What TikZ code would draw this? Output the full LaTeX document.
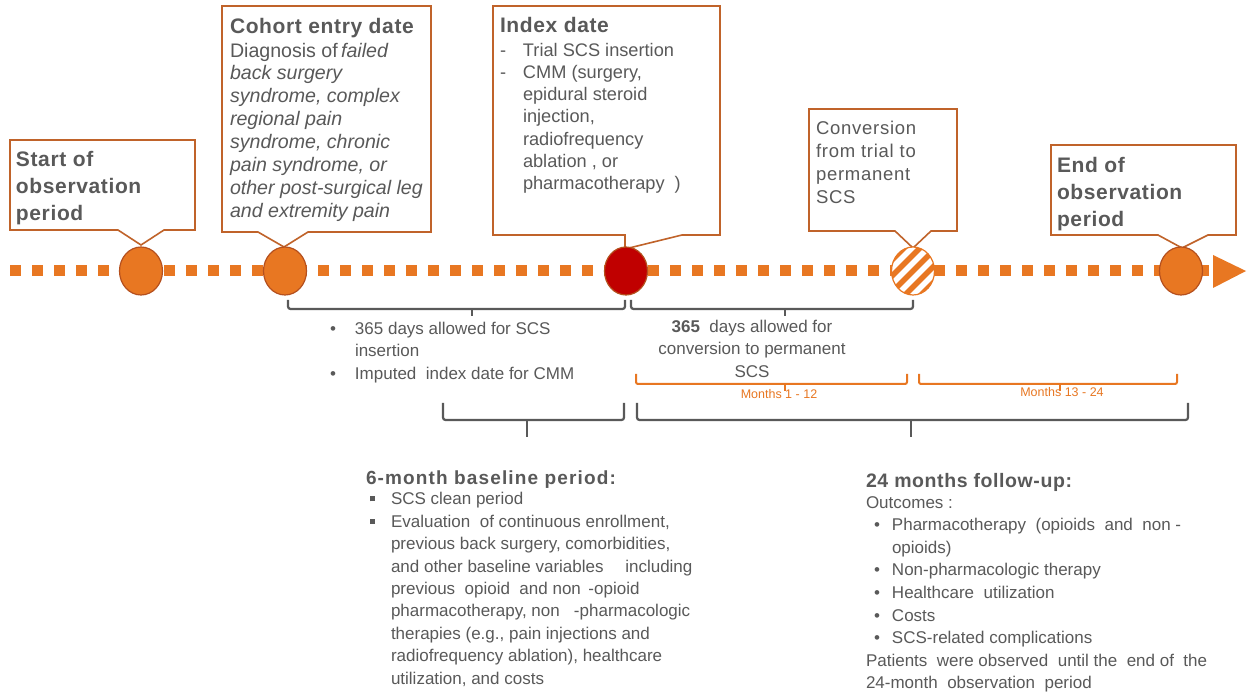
\documentclass[tikz,border=0pt]{standalone}
\usepackage{fontspec}
\setmainfont{Liberation Sans}
\usetikzlibrary{shapes.geometric}
\definecolor{org}{HTML}{E87722}
\definecolor{rust}{HTML}{C0632A}
\definecolor{txt}{HTML}{595959}
\definecolor{idx}{HTML}{C00000}
\definecolor{ring}{HTML}{B5501E}
\begin{document}
\begin{tikzpicture}[x=1pt,y=-1pt,
  callout/.style={draw=rust, line width=1.6pt, fill=white, line join=miter},
  dot/.style={ellipse, minimum width=43pt, minimum height=48pt, inner sep=0pt, fill=org, draw=ring, line width=1.2pt},
  br/.style={draw=txt, line width=2.2pt, rounded corners=2.5pt},
  obr/.style={draw=org, line width=2pt, rounded corners=2pt},
  tb/.style={anchor=north west, inner sep=0pt, outer sep=0pt, align=left, text=txt},
  bigtitle/.style={tb, font=\fontsize{21}{27}\selectfont\bfseries\addfontfeature{LetterSpace=3}},
]
\useasboundingbox (0,0) rectangle (1248,692);
\fill[white] (0,0) rectangle (1248,692);

% timeline
\coordinate (tl0) at (10,271);
\coordinate (tl1) at (1213,271);
\draw[org, line width=11pt, dash pattern=on 11pt off 11pt] (tl0) -- (tl1);
\fill[org] (1213,255) -- (1246,271) -- (1213,288) -- cycle;

% callouts
\draw[callout] (10,140) -- (195,140) -- (195,230) -- (164,230) -- (141,245) -- (118,230) -- (10,230) -- cycle;
\draw[callout] (222,6) -- (431,6) -- (431,232) -- (308,232) -- (284,247) -- (258,232) -- (222,232) -- cycle;
\draw[callout] (493,6) -- (720,6) -- (720,235) -- (682,235) -- (625,249) -- (625,235) -- (493,235) -- cycle;
\draw[callout] (809,109) -- (957,109) -- (957,231) -- (931,231) -- (913,248) -- (895,231) -- (809,231) -- cycle;
\draw[callout] (1051,145) -- (1236,145) -- (1236,235) -- (1208,235) -- (1182,248) -- (1158,235) -- (1051,235) -- cycle;

% circles
\node[dot] (cstart) at (141,271) {};
\node[dot] (centry) at (285,271) {};
\node[dot, fill=idx] (cindex) at (626,271) {};
\node[dot, fill=white, draw=org, path picture={
  \foreach \s in {-32,-24,...,32}
    \draw[org, line width=5.5pt] ([shift={(\s,\s)}]path picture bounding box.center) ++(-40,40) -- ++(80,-80);
}] (cconv) at (913,271) {};
\node[dot] (cend) at (1181,271) {};

% callout texts
\node[bigtitle] (tstart) at (16,148.1) {\strut Start of\\observation\\period};
\node[bigtitle] (tentry) at (230,15.1) {\strut Cohort entry date};
\node[tb, font=\fontsize{19.6}{22.9}\selectfont] (tentryb) at (230,41) {\strut Diagnosis of\,\textit{failed}\\
\textit{back surgery}\\ \textit{syndrome, complex}\\ \textit{regional pain}\\ \textit{syndrome, chronic}\\
\textit{pain syndrome, or}\\ \textit{other post-surgical leg}\\ \textit{and extremity pain}};
\node[bigtitle] (tindex) at (500,14.1) {\strut Index date};
\node[tb, font=\fontsize{18.2}{22.3}\selectfont] (tindexb) at (500,40.4) {\strut\makebox[23pt][l]{-}Trial SCS insertion\\
\makebox[23pt][l]{-}CMM (surgery,\\ \hspace*{23pt}epidural steroid\\ \hspace*{23pt}injection,\\
\hspace*{23pt}radiofrequency\\ \hspace*{23pt}ablation , or\\ \hspace*{23pt}pharmacotherapy \ )};
\node[tb, font=\fontsize{18.5}{22.7}\selectfont\addfontfeature{LetterSpace=4}] (tconv) at (816,119.1) {\strut Conversion\\from trial to\\permanent\\SCS};
\node[bigtitle] (tend) at (1057,154.1) {\strut End of\\observation\\period};

% upper brackets
\draw[br] (288,300) -- (288,309) -- (625,309) -- (625,300);
\draw[br] (472,309) -- (472,316);
\draw[br] (631,300) -- (631,309) -- (913,309) -- (913,300);
\draw[br] (785,309) -- (785,316);
% orange brackets
\draw[obr] (636,374) -- (636,384) -- (907,384) -- (907,374);
\draw[obr] (785,384) -- (785,391);
\draw[obr] (919,374) -- (919,384) -- (1177,384) -- (1177,374);
\draw[obr] (1060,384) -- (1060,391);
% lower brackets
\draw[br] (443,403) -- (443,420) -- (624,420) -- (624,403);
\draw[br] (527,420) -- (527,437);
\draw[br] (637,403) -- (637,420) -- (1188,420) -- (1188,403);
\draw[br] (911,420) -- (911,437);

% bracket labels
\node[tb, font=\fontsize{17}{22.6}\selectfont] (tins) at (330,318.2) {\strut\makebox[25pt][l]{•}365 days allowed for SCS\\
\hspace*{25pt}insertion\\ \makebox[25pt][l]{•}Imputed \ index date for CMM};
\node[tb, anchor=north, align=center, font=\fontsize{17}{22.6}\selectfont] (tconvd) at (752,316.2) {\strut\textbf{365} \ days allowed for\\conversion to permanent\\SCS};
\node[text=org, font=\fontsize{12.5}{15}\selectfont, inner sep=0pt] (m1) at (779,394) {Months 1 - 12};
\node[text=org, font=\fontsize{12.5}{15}\selectfont, inner sep=0pt] (m2) at (1062,392) {Months 13 - 24};

% baseline period
\node[tb, font=\fontsize{19}{24}\selectfont\bfseries\addfontfeature{LetterSpace=6}] (tbase) at (366,467.2) {\strut 6-month baseline period:};
\newcommand{\sqb}{\makebox[21pt][l]{\raisebox{3.5pt}{\rule{5pt}{5pt}}}}
\node[tb, font=\fontsize{17}{22.4}\selectfont] (tbaseb) at (370,489.3) {\strut\sqb SCS clean period\\
\sqb Evaluation \ of continuous enrollment,\\
\hspace*{21pt}previous back surgery, comorbidities,\\
\hspace*{21pt}and other baseline variables \quad including\\
\hspace*{21pt}previous \ opioid \ and non \,-opioid\\
\hspace*{21pt}pharmacotherapy, non \ \ -pharmacologic\\
\hspace*{21pt}therapies (e.g., pain injections and\\
\hspace*{21pt}radiofrequency ablation), healthcare\\
\hspace*{21pt}utilization, and costs};

% follow-up
\node[tb, font=\fontsize{19.5}{24}\selectfont\bfseries\addfontfeature{LetterSpace=3}] (tfol) at (866,470.2) {\strut 24 months follow-up:};
\newcommand{\rb}{\hspace*{8pt}\makebox[18pt][l]{•}}
\node[tb, font=\fontsize{17}{22.6}\selectfont] (tfolb) at (866,492.2) {\strut Outcomes :\\
\rb Pharmacotherapy \ (opioids \ and \ non -\\
\hspace*{26pt}opioids)\\
\rb Non-pharmacologic therapy\\
\rb Healthcare \ utilization\\
\rb Costs\\
\rb SCS-related complications\\
Patients \ were observed \ until the \ end of \ the\\
24-month \ observation \ period};
\end{tikzpicture}
\end{document}
